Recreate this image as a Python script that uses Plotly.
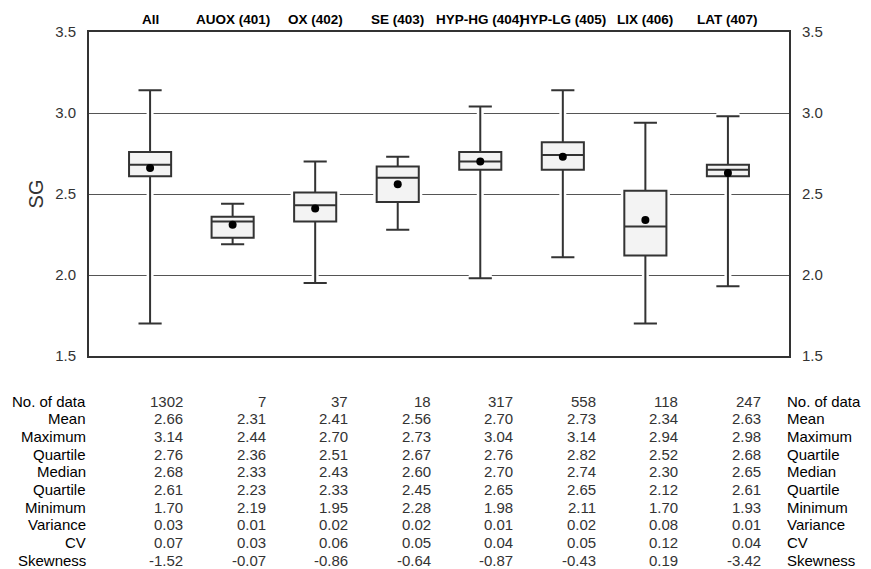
import plotly.graph_objects as go

categories = ["All", "AUOX (401)", "OX (402)", "SE (403)", "HYP-HG (404)", "HYP-LG (405)", "LIX (406)", "LAT (407)"]
n_data = ["1302", "7", "37", "18", "317", "558", "118", "247"]
mean = [2.66, 2.31, 2.41, 2.56, 2.70, 2.73, 2.34, 2.63]
maximum = [3.14, 2.44, 2.70, 2.73, 3.04, 3.14, 2.94, 2.98]
q3 = [2.76, 2.36, 2.51, 2.67, 2.76, 2.82, 2.52, 2.68]
median = [2.68, 2.33, 2.43, 2.60, 2.70, 2.74, 2.30, 2.65]
q1 = [2.61, 2.23, 2.33, 2.45, 2.65, 2.65, 2.12, 2.61]
minimum = [1.70, 2.19, 1.95, 2.28, 1.98, 2.11, 1.70, 1.93]
variance = [0.03, 0.01, 0.02, 0.02, 0.01, 0.02, 0.08, 0.01]
cv = [0.07, 0.03, 0.06, 0.05, 0.04, 0.05, 0.12, 0.04]
skewness = [-1.52, -0.07, -0.86, -0.64, -0.87, -0.43, 0.19, -3.42]
row_labels = ["No. of data", "Mean", "Maximum", "Quartile", "Median", "Quartile",
              "Minimum", "Variance", "CV", "Skewness"]
y_ticks = [1.5, 2.0, 2.5, 3.0, 3.5]

xs = list(range(len(categories)))
FONT = "Liberation Sans, Arial, Helvetica, sans-serif"
DARK = "#333333"

fig = go.Figure()

# white halo box behind the real box, to break the gridlines
fig.add_trace(go.Box(
    x=xs, q1=q1, median=median, q3=q3, lowerfence=minimum, upperfence=maximum,
    width=0.51, whiskerwidth=0.55, fillcolor="white",
    line=dict(color="white", width=7), boxpoints=False, showlegend=False,
    hoverinfo="skip"))

fig.add_trace(go.Box(
    x=xs, q1=q1, median=median, q3=q3, lowerfence=minimum, upperfence=maximum,
    width=0.51, whiskerwidth=0.55, fillcolor="#f3f3f3",
    line=dict(color=DARK, width=2), boxpoints=False, showlegend=False))

fig.add_trace(go.Scatter(x=xs, y=mean, mode="markers",
                         marker=dict(color="black", size=8), showlegend=False))

# invisible trace for right axis
fig.add_trace(go.Scatter(x=[xs[0]], y=[2.5], yaxis="y2", mode="markers",
                         marker=dict(opacity=0), showlegend=False, hoverinfo="skip"))

# top labels
for i, c in enumerate(categories):
    fig.add_annotation(x=i, y=1, xref="x", yref="paper", text="<b>%s</b>" % c,
                       showarrow=False, yanchor="middle", yshift=13,
                       font=dict(family=FONT, size=13.5, color="black"))

# statistics table
rows = [n_data,
        ["%.2f" % v for v in mean],
        ["%.2f" % v for v in maximum],
        ["%.2f" % v for v in q3],
        ["%.2f" % v for v in median],
        ["%.2f" % v for v in q1],
        ["%.2f" % v for v in minimum],
        ["%.2f" % v for v in variance],
        ["%.2f" % v for v in cv],
        ["%.2f" % v for v in skewness]]

plot_top, plot_bottom = 32, 356
h = plot_bottom - plot_top
for r, (lab, vals) in enumerate(zip(row_labels, rows)):
    py = 401 + r * 17.7
    yp = (plot_bottom - py) / h
    fig.add_annotation(x=0, y=yp, xref="paper", yref="paper", text=lab, showarrow=False,
                       xanchor="right", yanchor="middle", xshift=-1,
                       font=dict(family=FONT, size=15, color="black"))
    fig.add_annotation(x=1, y=yp, xref="paper", yref="paper", text=lab, showarrow=False,
                       xanchor="left", yanchor="middle", xshift=-4,
                       font=dict(family=FONT, size=15, color="black"))
    for i, v in enumerate(vals):
        fig.add_annotation(x=i, y=yp, xref="x", yref="paper", text=v, showarrow=False,
                           xanchor="right", yanchor="middle", xshift=35,
                           font=dict(family=FONT, size=15, color=DARK))

fig.update_layout(
    width=871, height=569,
    margin=dict(l=89, r=82, t=32, b=213),
    plot_bgcolor="white", paper_bgcolor="white",
    boxmode="overlay",
    font=dict(family=FONT, color=DARK),
    xaxis=dict(range=[-0.74, 7.74], showticklabels=False, showgrid=False, zeroline=False,
               showline=True, mirror=True, linecolor=DARK, linewidth=2, ticks=""),
    yaxis=dict(range=[1.5, 3.5], tickvals=y_ticks, ticktext=["%.1f" % v for v in y_ticks],
               showgrid=True, gridcolor="#555555", gridwidth=1, zeroline=False,
               showline=True, linecolor=DARK, linewidth=2, ticks="",
               ticklabelstandoff=8, tickfont=dict(size=15, color=DARK),
               title=dict(text="SG", font=dict(size=20, color=DARK), standoff=6)),
    yaxis2=dict(range=[1.5, 3.5], overlaying="y", side="right", tickvals=y_ticks,
                ticktext=["%.1f" % v for v in y_ticks], showgrid=False, zeroline=False,
                showline=True, linecolor=DARK, linewidth=2, ticks="",
                ticklabelstandoff=8, tickfont=dict(size=15, color=DARK)),
)

fig.write_html("out.html")
